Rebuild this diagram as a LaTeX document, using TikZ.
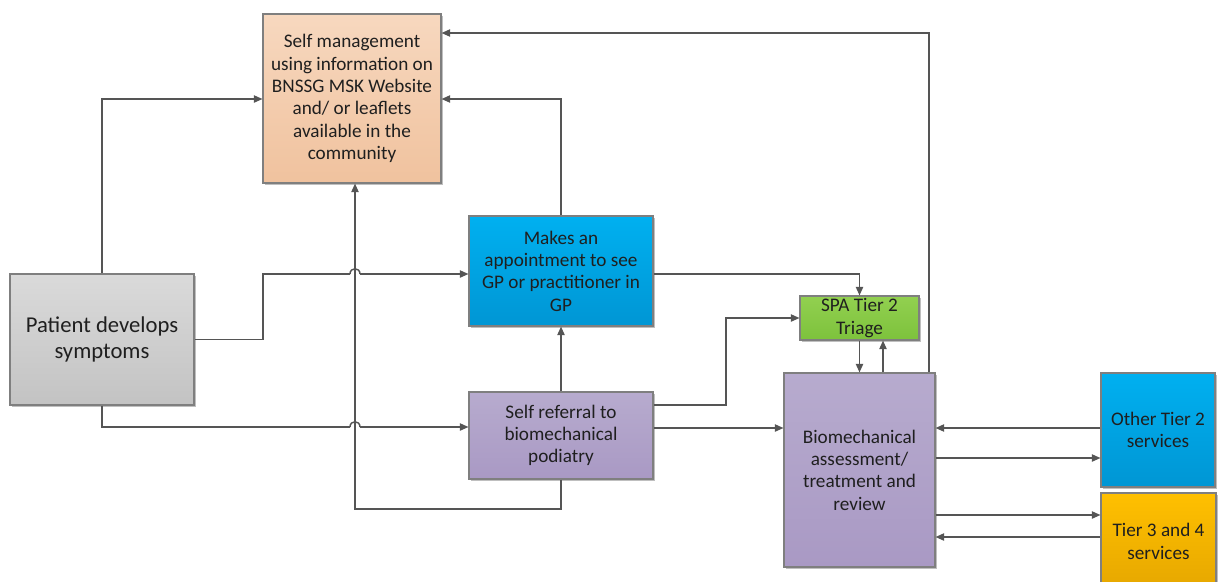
\documentclass[tikz,border=0pt]{standalone}
\usepackage{fontspec}
\setmainfont{Carlito}
\usetikzlibrary{arrows.meta,shadows}
\definecolor{lineclr}{HTML}{555555}
\definecolor{boxline}{HTML}{7F7F7F}
\definecolor{txt}{HTML}{1F1F1F}
\definecolor{peachT}{HTML}{F7D8BF}
\definecolor{peachB}{HTML}{F0C29E}
\definecolor{blueT}{HTML}{00B0F0}
\definecolor{blueB}{HTML}{0096D4}
\definecolor{greenT}{HTML}{92D050}
\definecolor{greenB}{HTML}{7DC23C}
\definecolor{purpT}{HTML}{B7ABCE}
\definecolor{purpB}{HTML}{A999C4}
\definecolor{grayT}{HTML}{DADADA}
\definecolor{grayB}{HTML}{C3C3C3}
\definecolor{goldT}{HTML}{FFC000}
\definecolor{goldB}{HTML}{E6A700}
\begin{document}
\begin{tikzpicture}[x=0.75pt,y=-0.75pt,
  box/.style={draw=boxline, line width=0.8pt, inner sep=0pt, align=center, text=txt,
    font=\fontsize{14.4}{16.7}\selectfont,
    drop shadow={shadow xshift=1.2pt,shadow yshift=-1.2pt,opacity=0.25,fill=black}},
  arr/.style={draw=lineclr, line width=1.1pt, -{Triangle[length=6.5pt,width=5.5pt]}},
  ln/.style={draw=lineclr, line width=1.1pt}]
\useasboundingbox (0,0) rectangle (1218,582);
% nodes
\node[box, top color=peachT, bottom color=peachB, minimum width=133.5pt, minimum height=126.75pt] (sm) at (352,98.5)
  {Self management\\using information on\\BNSSG MSK Website\\and/ or leaflets\\available in the\\community};
\node[box, top color=grayT, bottom color=grayB, minimum width=138pt, minimum height=98.25pt,
  font=\fontsize{17}{19.5}\selectfont] (pat) at (102,339.5) {Patient develops\\symptoms};
\node[box, top color=blueT, bottom color=blueB, minimum width=138pt, minimum height=82.5pt] (gp) at (561,271)
  {Makes an\\appointment to see\\GP or practitioner in\\GP};
\node[box, top color=greenT, bottom color=greenB, minimum width=89.25pt, minimum height=33pt] (spa) at (859.5,318)
  {SPA Tier 2\\Triage};
\node[box, top color=purpT, bottom color=purpB, minimum width=138pt, minimum height=65.25pt] (sr) at (561,435.5)
  {Self referral to\\biomechanical\\podiatry};
\node[box, top color=purpT, bottom color=purpB, minimum width=113.25pt, minimum height=145.5pt] (bio) at (859.5,470)
  {Biomechanical\\assessment/\\treatment and\\review};
\node[box, top color=blueT, bottom color=blueB, minimum width=85.5pt, minimum height=85.5pt] (ot2) at (1158,430)
  {Other Tier 2\\services};
\node[box, top color=goldT, bottom color=goldB, minimum width=86.25pt, minimum height=72.75pt] (t34) at (1158.5,541.5)
  {Tier 3 and 4\\services};
% helper coordinates
\coordinate (y33) at (0,33);
\coordinate (y99) at (0,99);
\coordinate (y274) at (0,274);
\coordinate (y405) at (0,405);
\coordinate (y427) at (0,427);
\coordinate (y428) at (0,428);
\coordinate (y458) at (0,458);
\coordinate (y515) at (0,515);
\coordinate (y537) at (0,537);
\coordinate (x355) at (355,0);
\coordinate (x883) at (883,0);
\coordinate (x929) at (929,0);
\coordinate (hopA1) at (350,274);
\coordinate (hopA2) at (360,274);
\coordinate (hopB1) at (350,427);
\coordinate (hopB2) at (360,427);
\coordinate (bend1) at (263,274);
\coordinate (bend2) at (726,318);
\coordinate (bend3) at (561,509);
\coordinate (bend4) at (929,33);
% connectors
\draw[arr] (pat.north) |- (sm.west |- y99);
\draw[ln] (pat.east) -| (bend1) -- (hopA1);
\draw[ln] (hopA1) .. controls (350,267) and (360,267) .. (hopA2);
\draw[arr] (hopA2) -- (gp.west |- y274);
\draw[ln] (pat.south) |- (hopB1);
\draw[ln] (hopB1) .. controls (350,420) and (360,420) .. (hopB2);
\draw[arr] (hopB2) -- (sr.west |- y427);
\draw[arr] (sr.south) -- (bend3) -| (sm.south -| x355);
\draw[arr] (sr.north) -- (gp.south);
\draw[arr] (gp.north) |- (sm.east |- y99);
\draw[arr] (gp.east |- y274) -| (spa.north);
\draw[arr] (sr.east |- y405) -| (bend2) -- (spa.west);
\draw[arr] (sr.east |- y428) -- (bio.west |- y428);
\draw[arr] (spa.south) -- (bio.north);
\draw[arr] (bio.north -| x883) -- (spa.south -| x883);
\draw[arr] (bio.north -| x929) -- (bend4) -- (sm.east |- y33);
\draw[arr] (ot2.west |- y428) -- (bio.east |- y428);
\draw[arr] (bio.east |- y458) -- (ot2.west |- y458);
\draw[arr] (bio.east |- y515) -- (t34.west |- y515);
\draw[arr] (t34.west |- y537) -- (bio.east |- y537);
\end{tikzpicture}
\end{document}
